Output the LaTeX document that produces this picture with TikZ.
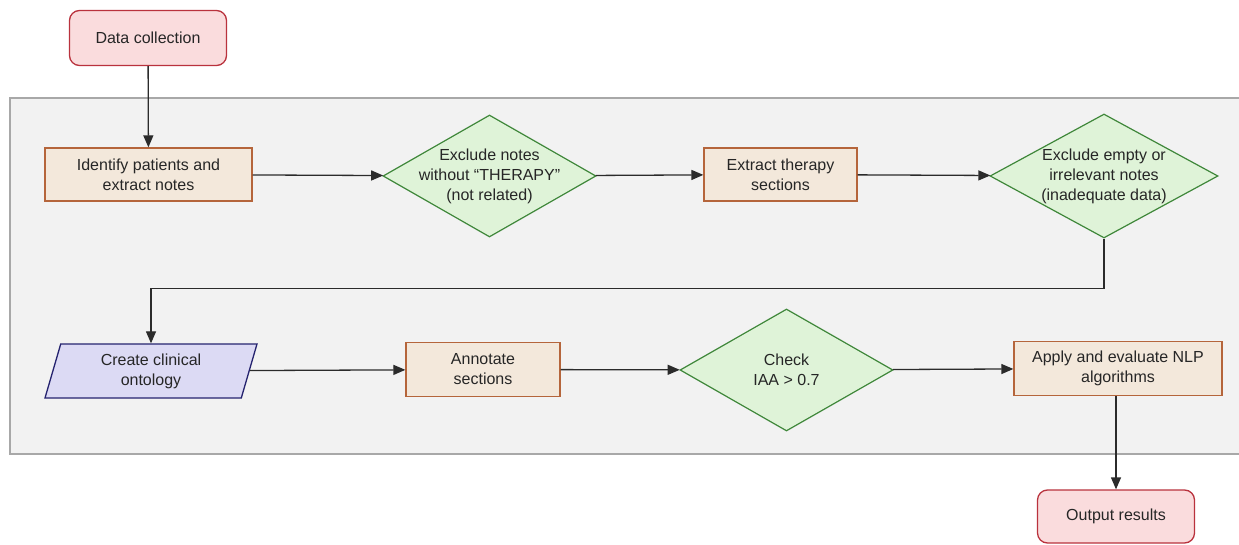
\documentclass[tikz,border=0pt]{standalone}
\usepackage{fontspec}
\setmainfont{Liberation Sans}
\usetikzlibrary{shapes.geometric,arrows.meta}
\definecolor{term_fill}{HTML}{FADCDD}
\definecolor{term_draw}{HTML}{B9323D}
\definecolor{proc_fill}{HTML}{F3E8DB}
\definecolor{proc_draw}{HTML}{B5653B}
\definecolor{dec_fill}{HTML}{DFF3D8}
\definecolor{dec_draw}{HTML}{3F873A}
\definecolor{onto_fill}{HTML}{DCDAF4}
\definecolor{onto_draw}{HTML}{25236F}
\definecolor{panel_fill}{HTML}{F2F2F2}
\definecolor{panel_draw}{HTML}{A8A8A8}
\definecolor{line_gray}{HTML}{2B2B2B}

\tikzset{
  terminal/.style={draw=term_draw,fill=term_fill,line width=1.3pt,rounded corners=10pt,
    minimum width=157pt,minimum height=55pt,align=center},
  process/.style={draw=proc_draw,fill=proc_fill,line width=1.3pt,
    minimum width=207pt,minimum height=53pt,align=center,inner sep=2pt},
  decision/.style={diamond,draw=dec_draw,fill=dec_fill,line width=1.2pt,
    minimum width=213pt,minimum height=122pt,align=center,inner xsep=-40pt,inner ysep=-15pt},
  inputbox/.style={trapezium,trapezium left angle=68,trapezium right angle=112,
    trapezium stretches body=true,
    draw=onto_draw,fill=onto_fill,line width=1.3pt,minimum width=212pt,minimum height=54pt,
    align=center,inner sep=2pt},
  flow/.style={draw=line_gray,line width=1.3pt,-{Triangle[length=12pt,width=10pt]}}
}

\begin{document}
\begin{tikzpicture}[x=1pt,y=-1pt,font=\fontsize{16}{20}\selectfont,text=black!85]
  \useasboundingbox (0,0) rectangle (1239,545);
  \draw[draw=panel_draw,fill=panel_fill,line width=1.5pt] (10,98) rectangle (1250,454);

  \node[terminal] (dc) at (148,38) {Data collection};
  \node[process] (ident) at (148.5,174.5) {Identify patients and\\extract notes};
  \node[decision] (ex1) at (489.5,176) {Exclude notes\\without “THERAPY”\\(not related)};
  \node[process,minimum width=153pt] (extr) at (780.5,174.5) {Extract therapy\\sections};
  \node[decision,minimum width=228pt,minimum height=124pt] (ex2) at (1104,176) {Exclude empty or\\irrelevant notes\\(inadequate data)};

  \node[inputbox] (onto) at (151,371) {Create clinical\\ontology};
  \node[process,minimum width=154pt,minimum height=54pt] (annot) at (483,369.5) {Annotate\\sections};
  \node[decision] (iaa) at (786.5,370) {Check\\IAA > 0.7};
  \node[process,minimum width=208pt,minimum height=54pt] (nlp) at (1118,368.5) {Apply and evaluate NLP\\algorithms};
  \node[terminal,minimum height=53pt] (out) at (1116,516.5) {Output results};

  \draw[flow] (dc) -- (ident);
  \draw[flow] (ident) -- (ex1);
  \draw[flow] (ex1) -- (extr);
  \draw[flow] (extr) -- (ex2);
  \draw[flow] (ex2.south) -- ++(0,50) -| (onto.north);
  \draw[flow] (onto) -- (annot);
  \draw[flow] (annot) -- (iaa);
  \draw[flow] (iaa) -- (nlp);
  \draw[flow] (nlp.south -| out.north) -- (out.north);
\end{tikzpicture}
\end{document}
